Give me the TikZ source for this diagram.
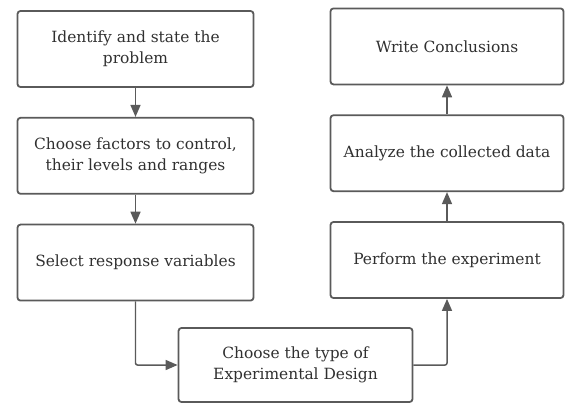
\documentclass[tikz,border=0pt]{standalone}
\usepackage{fontspec}
\setmainfont{DejaVu Serif}
\usetikzlibrary{positioning,arrows.meta}
\definecolor{edge}{HTML}{5A5A5A}
\definecolor{ink}{HTML}{303030}
\tikzset{
  stepbox/.style={draw=edge, line width=1.8pt, rounded corners=3pt,
    minimum width=236bp, minimum height=76bp, align=center, text=ink,
    font=\fontsize{15.5}{21}\selectfont},
  flow/.style={draw=edge, line width=1.5pt, rounded corners=2pt,
    -{Triangle[length=12bp,width=10bp]}},
}
\begin{document}
\begin{tikzpicture}[x=1bp, y=-1bp]
  \useasboundingbox (0,0) rectangle (565,405);
  % left column
  \node[stepbox] (ident) at (135.5,49) {Identify and state the\\problem};
  \node[stepbox, below=29bp of ident] (factors) {Choose factors to control,\\their levels and ranges};
  \node[stepbox, below=29bp of factors] (resp) {Select response variables};
  % bottom
  \node[stepbox, minimum width=234bp, minimum height=74bp] (design) at (295.5,365) {Choose the type of\\Experimental Design};
  % right column
  \node[stepbox, minimum width=233bp] (perform) at (447,260) {Perform the experiment};
  \node[stepbox, minimum width=233bp, above=29bp of perform] (analyze) {Analyze the collected data};
  \node[stepbox, minimum width=233bp, above=29bp of analyze] (concl) {Write Conclusions};
  % connectors
  \draw[flow] (ident) -- (factors);
  \draw[flow] (factors) -- (resp);
  \draw[flow] (resp.south) |- (design.west);
  \draw[flow] (design.east) -| (perform.south);
  \draw[flow] (perform) -- (analyze);
  \draw[flow] (analyze) -- (concl);
\end{tikzpicture}
\end{document}
